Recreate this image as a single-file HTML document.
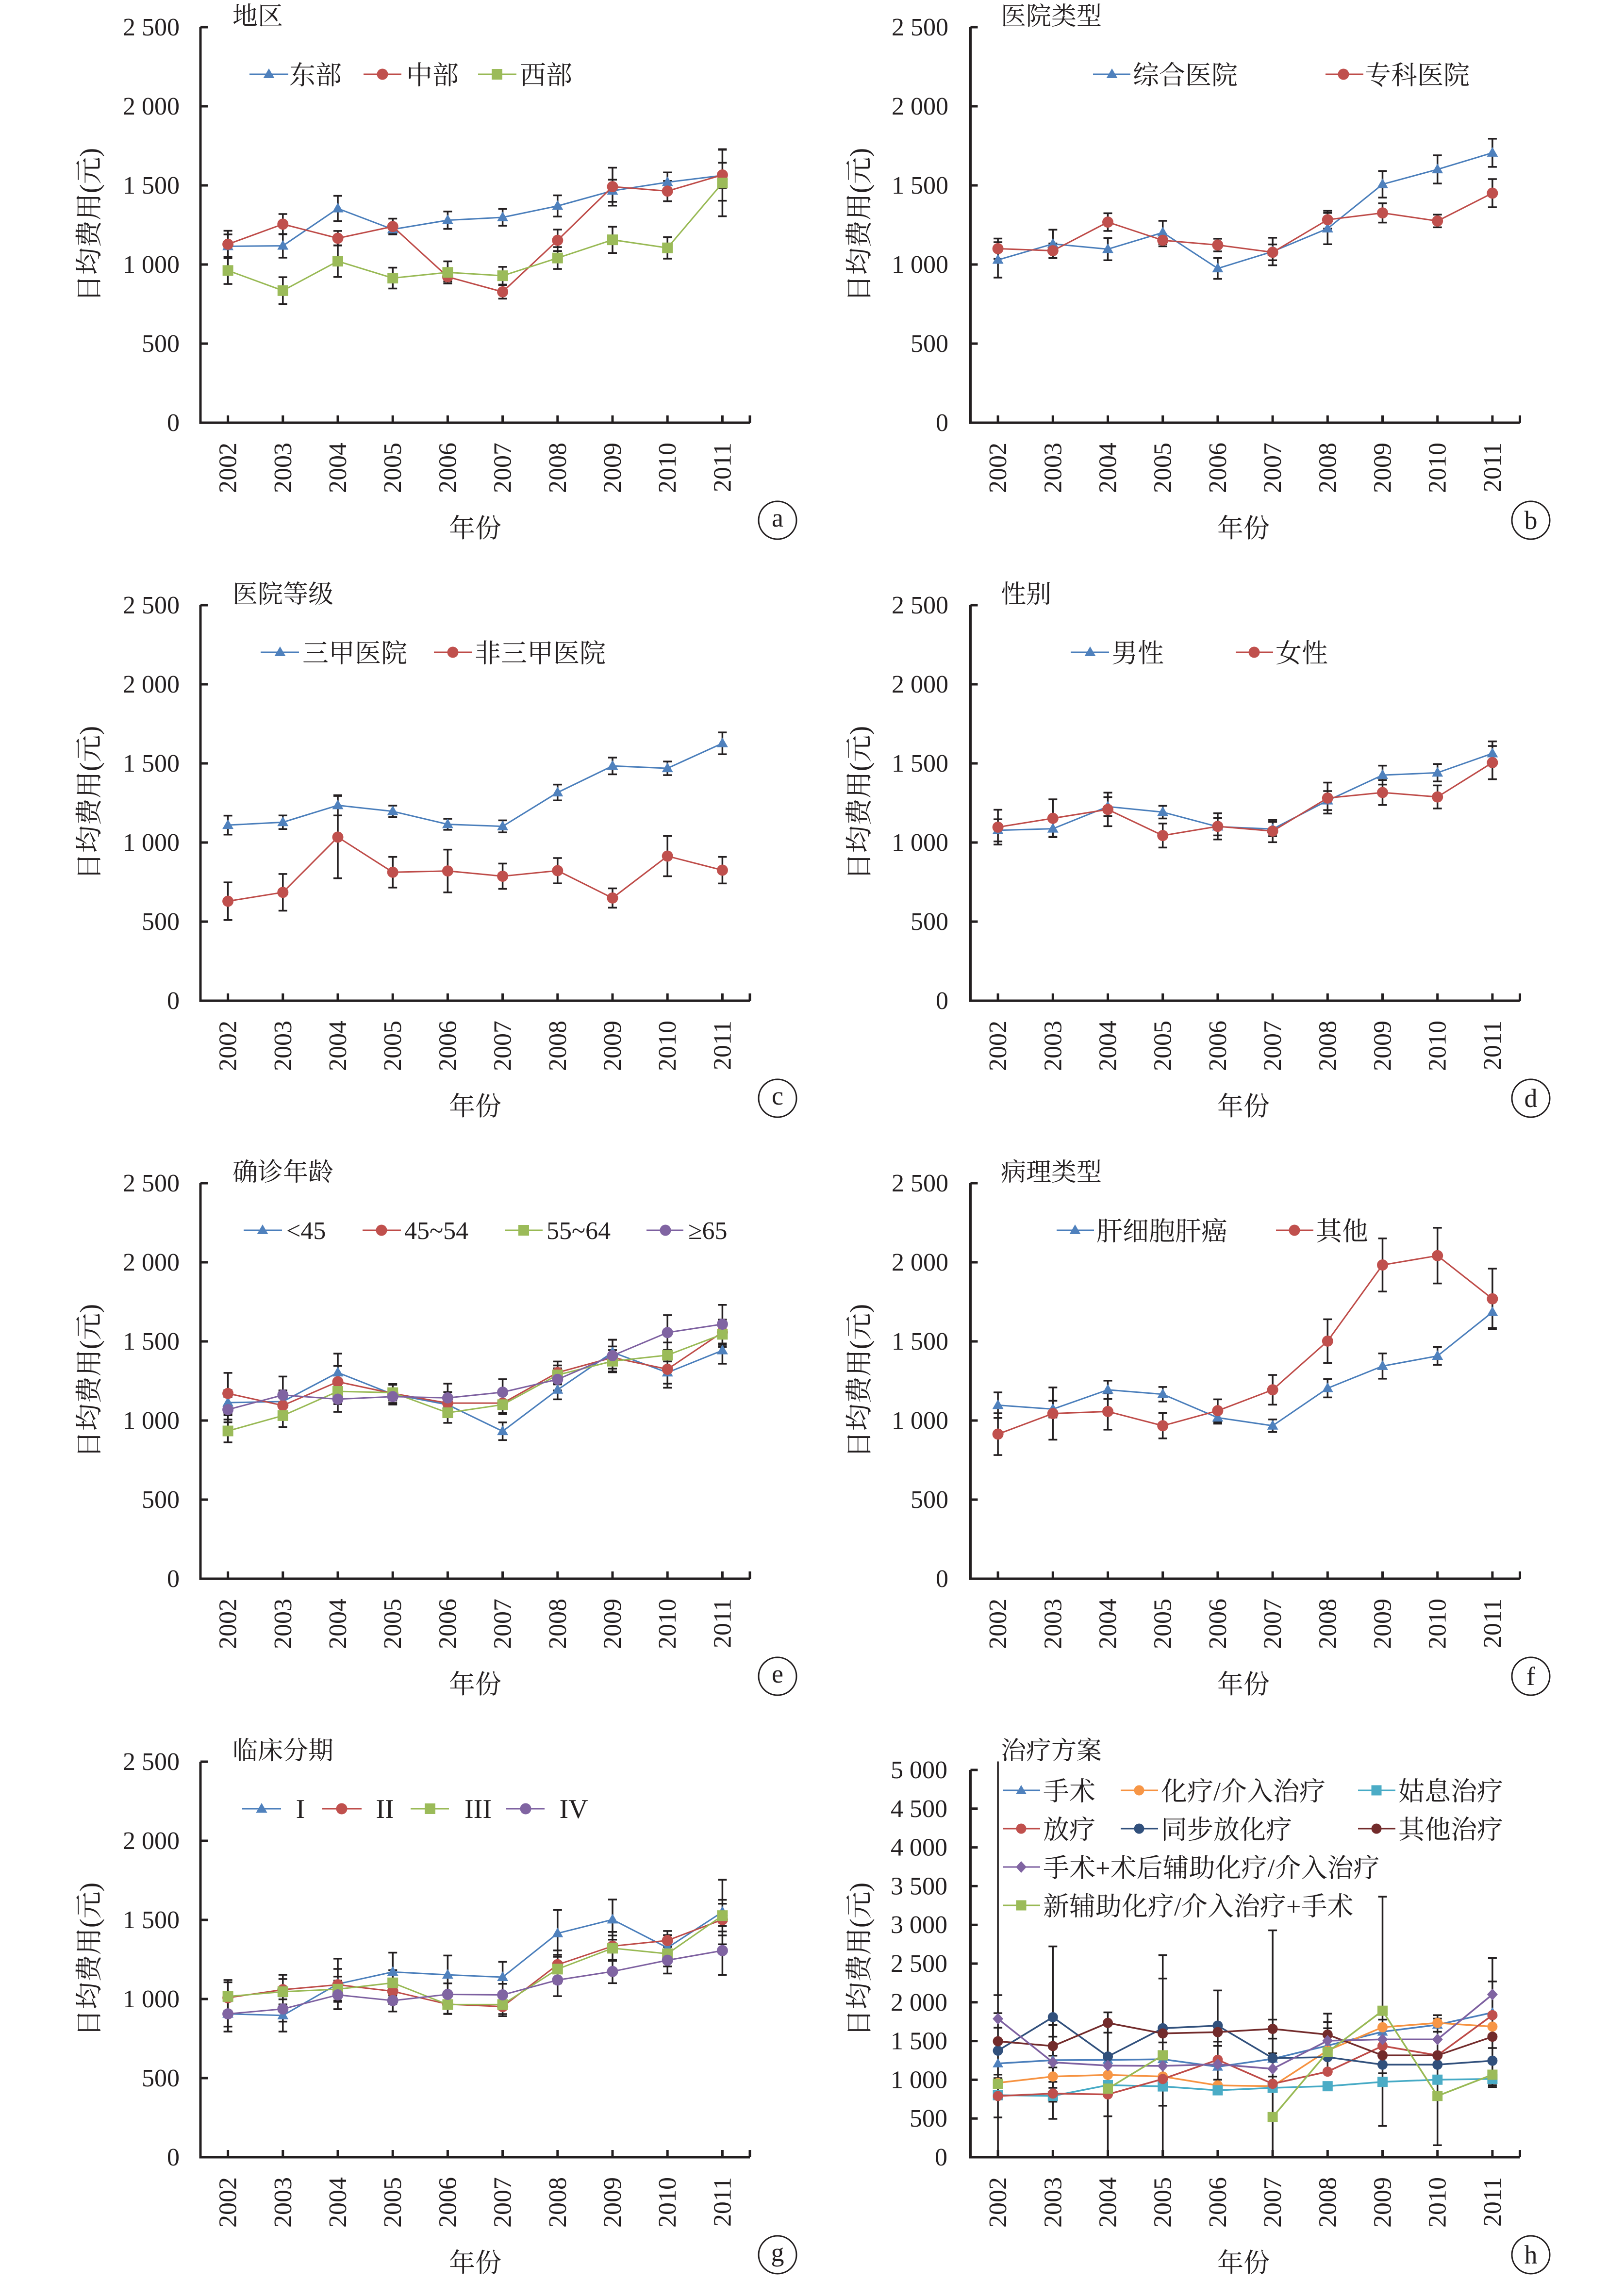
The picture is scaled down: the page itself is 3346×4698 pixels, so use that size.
<!DOCTYPE html>
<html><head><meta charset="utf-8"><style>
html,body{margin:0;padding:0;background:#fff}
svg{display:block}
text{fill:#231F20}
.t{font:52px "Liberation Serif","Noto Serif CJK SC",serif}
.c{font:54px "Liberation Serif","Noto Serif CJK SC",serif}
.yt{font:56px "Liberation Serif","Noto Serif CJK SC",serif}
.ax{fill:none;stroke:#231F20;stroke-width:5}
.eb{fill:none;stroke:#231F20;stroke-width:3.5;vector-effect:non-scaling-stroke}
.ln{fill:none;stroke-width:3;stroke-linejoin:round;vector-effect:non-scaling-stroke}
.lh{fill:none;stroke-width:3.5;stroke-linejoin:round;vector-effect:non-scaling-stroke}
.lg{fill:none;stroke-width:3}
.cir{fill:none;stroke:#231F20;stroke-width:3}
</style></head><body>
<svg xmlns="http://www.w3.org/2000/svg" width="3346" height="4698" viewBox="0 0 3346 4698">
<rect width="3346" height="4698" fill="#fff"/>
<defs>
<g id="T"><path transform="scale(1,-3.06748)" d="M0,-12L11.5,8L-11.5,8Z"/></g>
<g id="C"><circle transform="scale(1,-3.06748)" r="11.5"/></g>
<g id="S"><rect transform="scale(1,-3.06748)" x="-11" y="-11" width="22" height="22"/></g>
<g id="Th"><path transform="scale(1,-6.26566)" d="M0,-11L11,8L-11,8Z"/></g>
<g id="Ch"><circle transform="scale(1,-6.26566)" r="10.5"/></g>
<g id="Sh"><rect transform="scale(1,-6.26566)" x="-10.5" y="-10.5" width="21" height="21"/></g>
<g id="Dh"><path transform="scale(1,-6.26566)" d="M0,-12L11,0L0,12L-11,0Z"/></g>
<path id="tp" d="M0,-12L11.5,8L-11.5,8Z"/>
<circle id="cp" r="11.5"/>
<rect id="sp" x="-11" y="-11" width="22" height="22"/>
<path id="th" d="M0,-11L11,8L-11,8Z"/>
<circle id="ch" r="10.5"/>
<rect id="sh" x="-10.5" y="-10.5" width="21" height="21"/>
<path id="dh" d="M0,-12L11,0L0,12L-11,0Z"/>
<path id="axA" fill="none" stroke="#231F20" stroke-width="5" d="M413,56V871H1545M413,56h15M413,219h15M413,382h15M413,545h15M413,708h15M469.6,871v-15M582.8,871v-15M696,871v-15M809.2,871v-15M922.4,871v-15M1035.6,871v-15M1148.8,871v-15M1262,871v-15M1375.2,871v-15M1488.4,871v-15M1545,871v-15"/>
</defs>

<!-- axes -->
<use href="#axA"/>
<use href="#axA" x="1586.5" y="0"/>
<use href="#axA" x="0" y="1191"/>
<use href="#axA" x="1586.5" y="1191"/>
<use href="#axA" x="0" y="2382"/>
<use href="#axA" x="1586.5" y="2382"/>
<use href="#axA" x="0" y="3574"/>
<path class="ax" d="M1999.5,3647V4445H3131.5M1999.5,3647h15M1999.5,3726.8h15M1999.5,3806.6h15M1999.5,3886.4h15M1999.5,3966.2h15M1999.5,4046h15M1999.5,4125.8h15M1999.5,4205.6h15M1999.5,4285.4h15M1999.5,4365.2h15M2056.1,4445v-15M2169.3,4445v-15M2282.5,4445v-15M2395.7,4445v-15M2508.9,4445v-15M2622.1,4445v-15M2735.3,4445v-15M2848.5,4445v-15M2961.7,4445v-15M3074.9,4445v-15M3131.5,4445v-15"/>

<!-- y tick labels (2500 panels) -->
<g class="t" text-anchor="end" id="yl">
<text x="370" y="888">0</text><text x="370" y="725">500</text><text x="370" y="562">1 000</text><text x="370" y="399">1 500</text><text x="370" y="236">2 000</text><text x="370" y="73">2 500</text>
</g>
<g class="t" text-anchor="end" transform="translate(1584,0)">
<text x="370" y="888">0</text><text x="370" y="725">500</text><text x="370" y="562">1 000</text><text x="370" y="399">1 500</text><text x="370" y="236">2 000</text><text x="370" y="73">2 500</text>
</g>
<g class="t" text-anchor="end" transform="translate(0,1191)">
<text x="370" y="888">0</text><text x="370" y="725">500</text><text x="370" y="562">1 000</text><text x="370" y="399">1 500</text><text x="370" y="236">2 000</text><text x="370" y="73">2 500</text>
</g>
<g class="t" text-anchor="end" transform="translate(1584,1191)">
<text x="370" y="888">0</text><text x="370" y="725">500</text><text x="370" y="562">1 000</text><text x="370" y="399">1 500</text><text x="370" y="236">2 000</text><text x="370" y="73">2 500</text>
</g>
<g class="t" text-anchor="end" transform="translate(0,2382)">
<text x="370" y="888">0</text><text x="370" y="725">500</text><text x="370" y="562">1 000</text><text x="370" y="399">1 500</text><text x="370" y="236">2 000</text><text x="370" y="73">2 500</text>
</g>
<g class="t" text-anchor="end" transform="translate(1584,2382)">
<text x="370" y="888">0</text><text x="370" y="725">500</text><text x="370" y="562">1 000</text><text x="370" y="399">1 500</text><text x="370" y="236">2 000</text><text x="370" y="73">2 500</text>
</g>
<g class="t" text-anchor="end" transform="translate(0,3574)">
<text x="370" y="888">0</text><text x="370" y="725">500</text><text x="370" y="562">1 000</text><text x="370" y="399">1 500</text><text x="370" y="236">2 000</text><text x="370" y="73">2 500</text>
</g>
<g class="t" text-anchor="end">
<text x="1952" y="4462">0</text><text x="1952" y="4382.2">500</text><text x="1952" y="4302.4">1 000</text><text x="1952" y="4222.6">1 500</text><text x="1952" y="4142.8">2 000</text><text x="1952" y="4063">2 500</text><text x="1952" y="3983.2">3 000</text><text x="1952" y="3903.4">3 500</text><text x="1952" y="3823.6">4 000</text><text x="1952" y="3743.8">4 500</text><text x="1952" y="3664">5 000</text>
</g>

<!-- year labels -->
<g class="t" text-anchor="end">
<text transform="translate(486.6,912) rotate(-90)">2002</text><text transform="translate(599.8,912) rotate(-90)">2003</text><text transform="translate(713,912) rotate(-90)">2004</text><text transform="translate(826.2,912) rotate(-90)">2005</text><text transform="translate(939.4,912) rotate(-90)">2006</text><text transform="translate(1052.6,912) rotate(-90)">2007</text><text transform="translate(1165.8,912) rotate(-90)">2008</text><text transform="translate(1279,912) rotate(-90)">2009</text><text transform="translate(1392.2,912) rotate(-90)">2010</text><text transform="translate(1505.4,912) rotate(-90)">2011</text>
</g>
<g class="t" text-anchor="end" transform="translate(1586.5,0)">
<text transform="translate(486.6,912) rotate(-90)">2002</text><text transform="translate(599.8,912) rotate(-90)">2003</text><text transform="translate(713,912) rotate(-90)">2004</text><text transform="translate(826.2,912) rotate(-90)">2005</text><text transform="translate(939.4,912) rotate(-90)">2006</text><text transform="translate(1052.6,912) rotate(-90)">2007</text><text transform="translate(1165.8,912) rotate(-90)">2008</text><text transform="translate(1279,912) rotate(-90)">2009</text><text transform="translate(1392.2,912) rotate(-90)">2010</text><text transform="translate(1505.4,912) rotate(-90)">2011</text>
</g>
<g class="t" text-anchor="end" transform="translate(0,1191)">
<text transform="translate(486.6,912) rotate(-90)">2002</text><text transform="translate(599.8,912) rotate(-90)">2003</text><text transform="translate(713,912) rotate(-90)">2004</text><text transform="translate(826.2,912) rotate(-90)">2005</text><text transform="translate(939.4,912) rotate(-90)">2006</text><text transform="translate(1052.6,912) rotate(-90)">2007</text><text transform="translate(1165.8,912) rotate(-90)">2008</text><text transform="translate(1279,912) rotate(-90)">2009</text><text transform="translate(1392.2,912) rotate(-90)">2010</text><text transform="translate(1505.4,912) rotate(-90)">2011</text>
</g>
<g class="t" text-anchor="end" transform="translate(1586.5,1191)">
<text transform="translate(486.6,912) rotate(-90)">2002</text><text transform="translate(599.8,912) rotate(-90)">2003</text><text transform="translate(713,912) rotate(-90)">2004</text><text transform="translate(826.2,912) rotate(-90)">2005</text><text transform="translate(939.4,912) rotate(-90)">2006</text><text transform="translate(1052.6,912) rotate(-90)">2007</text><text transform="translate(1165.8,912) rotate(-90)">2008</text><text transform="translate(1279,912) rotate(-90)">2009</text><text transform="translate(1392.2,912) rotate(-90)">2010</text><text transform="translate(1505.4,912) rotate(-90)">2011</text>
</g>
<g class="t" text-anchor="end" transform="translate(0,2382)">
<text transform="translate(486.6,912) rotate(-90)">2002</text><text transform="translate(599.8,912) rotate(-90)">2003</text><text transform="translate(713,912) rotate(-90)">2004</text><text transform="translate(826.2,912) rotate(-90)">2005</text><text transform="translate(939.4,912) rotate(-90)">2006</text><text transform="translate(1052.6,912) rotate(-90)">2007</text><text transform="translate(1165.8,912) rotate(-90)">2008</text><text transform="translate(1279,912) rotate(-90)">2009</text><text transform="translate(1392.2,912) rotate(-90)">2010</text><text transform="translate(1505.4,912) rotate(-90)">2011</text>
</g>
<g class="t" text-anchor="end" transform="translate(1586.5,2382)">
<text transform="translate(486.6,912) rotate(-90)">2002</text><text transform="translate(599.8,912) rotate(-90)">2003</text><text transform="translate(713,912) rotate(-90)">2004</text><text transform="translate(826.2,912) rotate(-90)">2005</text><text transform="translate(939.4,912) rotate(-90)">2006</text><text transform="translate(1052.6,912) rotate(-90)">2007</text><text transform="translate(1165.8,912) rotate(-90)">2008</text><text transform="translate(1279,912) rotate(-90)">2009</text><text transform="translate(1392.2,912) rotate(-90)">2010</text><text transform="translate(1505.4,912) rotate(-90)">2011</text>
</g>
<g class="t" text-anchor="end" transform="translate(0,3574)">
<text transform="translate(486.6,912) rotate(-90)">2002</text><text transform="translate(599.8,912) rotate(-90)">2003</text><text transform="translate(713,912) rotate(-90)">2004</text><text transform="translate(826.2,912) rotate(-90)">2005</text><text transform="translate(939.4,912) rotate(-90)">2006</text><text transform="translate(1052.6,912) rotate(-90)">2007</text><text transform="translate(1165.8,912) rotate(-90)">2008</text><text transform="translate(1279,912) rotate(-90)">2009</text><text transform="translate(1392.2,912) rotate(-90)">2010</text><text transform="translate(1505.4,912) rotate(-90)">2011</text>
</g>
<g class="t" text-anchor="end" transform="translate(1586.5,3574)">
<text transform="translate(486.6,912) rotate(-90)">2002</text><text transform="translate(599.8,912) rotate(-90)">2003</text><text transform="translate(713,912) rotate(-90)">2004</text><text transform="translate(826.2,912) rotate(-90)">2005</text><text transform="translate(939.4,912) rotate(-90)">2006</text><text transform="translate(1052.6,912) rotate(-90)">2007</text><text transform="translate(1165.8,912) rotate(-90)">2008</text><text transform="translate(1279,912) rotate(-90)">2009</text><text transform="translate(1392.2,912) rotate(-90)">2010</text><text transform="translate(1505.4,912) rotate(-90)">2011</text>
</g>

<!-- y titles -->
<g class="yt" text-anchor="middle">
<text transform="translate(203,463.5) rotate(-90)">日均费用(元)</text>
<text transform="translate(1789.5,463.5) rotate(-90)">日均费用(元)</text>
<text transform="translate(203,1654.5) rotate(-90)">日均费用(元)</text>
<text transform="translate(1789.5,1654.5) rotate(-90)">日均费用(元)</text>
<text transform="translate(203,2845.5) rotate(-90)">日均费用(元)</text>
<text transform="translate(1789.5,2845.5) rotate(-90)">日均费用(元)</text>
<text transform="translate(203,4037.5) rotate(-90)">日均费用(元)</text>
<text transform="translate(1789.5,4037.5) rotate(-90)">日均费用(元)</text>
</g>

<!-- x titles -->
<g class="c" text-anchor="middle">
<text x="979" y="1107">年份</text><text x="2562" y="1107">年份</text>
<text x="979" y="2298">年份</text><text x="2562" y="2298">年份</text>
<text x="979" y="3489">年份</text><text x="2562" y="3489">年份</text>
<text x="979" y="4681">年份</text><text x="2562" y="4681">年份</text>
</g>

<!-- panel circles -->
<circle class="cir" cx="1602" cy="1072" r="39"/><circle class="cir" cx="3154" cy="1072" r="39"/>
<circle class="cir" cx="1602" cy="2263" r="39"/><circle class="cir" cx="3154" cy="2263" r="39"/>
<circle class="cir" cx="1602" cy="3454" r="39"/><circle class="cir" cx="3154" cy="3454" r="39"/>
<circle class="cir" cx="1602" cy="4646" r="39"/><circle class="cir" cx="3154" cy="4646" r="39"/>
<g class="c" text-anchor="middle">
<text x="1602" y="1085">a</text><text x="3154" y="1090">b</text>
<text x="1602" y="2276">c</text><text x="3154" y="2281">d</text>
<text x="1602" y="3467">e</text><text x="3154" y="3472">f</text>
<text x="1602" y="4659">g</text><text x="3154" y="4664">h</text>
</g>

<!-- panel titles -->
<g class="t">
<text x="479" y="51">地区</text><text x="2062" y="51">医院类型</text>
<text x="479" y="1242">医院等级</text><text x="2062" y="1242">性别</text>
<text x="479" y="2433">确诊年龄</text><text x="2062" y="2433">病理类型</text>
<text x="479" y="3625">临床分期</text><text x="2062" y="3625">治疗方案</text>
</g>

<!-- ===== Panel a ===== -->
<path class="lg" stroke="#4A7EBB" d="M514,153H594"/><use href="#tp" x="554" y="153" fill="#4F81BD"/><text class="c" x="596" y="173.5">东部</text>
<path class="lg" stroke="#BE4B48" d="M749,153H827"/><use href="#cp" x="788" y="153" fill="#C0504D"/><text class="c" x="837" y="173.5">中部</text>
<path class="lg" stroke="#98B954" d="M985,153H1064"/><use href="#sp" x="1024" y="153" fill="#9BBB59"/><text class="c" x="1071" y="173.5">西部</text>
<g transform="translate(469.6,871) scale(1,-0.326)">
<path class="eb" d="M0,1040V1190M-9,1040h18M-9,1190h18M113.2,1043V1193M104.2,1043h18M104.2,1193h18M226.4,1274V1434M217.4,1274h18M217.4,1434h18M339.6,1192V1252M330.6,1192h18M330.6,1252h18M452.8,1225V1335M443.8,1225h18M443.8,1335h18M566,1245V1351M557,1245h18M557,1351h18M679.2,1303V1437M670.2,1303h18M670.2,1437h18M792.4,1396V1536M783.4,1396h18M783.4,1536h18M905.6,1458V1582M896.6,1458h18M896.6,1582h18M1018.8,1483V1643M1009.8,1483h18M1009.8,1643h18
M0,1043V1213M-9,1043h18M-9,1213h18M113.2,1191V1319M104.2,1191h18M104.2,1319h18M226.4,1120V1212M217.4,1120h18M217.4,1212h18M339.6,1190V1290M330.6,1190h18M330.6,1290h18M452.8,892V952M443.8,892h18M443.8,952h18M566,784V870M557,784h18M557,870h18M679.2,1085V1221M670.2,1085h18M670.2,1221h18M792.4,1372V1612M783.4,1372h18M783.4,1612h18M905.6,1400V1528M896.6,1400h18M896.6,1528h18M1018.8,1403V1729M1009.8,1403h18M1009.8,1729h18
M0,877V1047M-9,877h18M-9,1047h18M113.2,750V920M104.2,750h18M104.2,920h18M226.4,921V1121M217.4,921h18M217.4,1121h18M339.6,848V980M330.6,848h18M330.6,980h18M452.8,880V1020M443.8,880h18M443.8,1020h18M566,873V985M557,873h18M557,985h18M679.2,972V1110M670.2,972h18M670.2,1110h18M792.4,1073V1239M783.4,1073h18M783.4,1239h18M905.6,1037V1173M896.6,1037h18M896.6,1173h18M1018.8,1305V1725M1009.8,1305h18M1009.8,1725h18"/>
<polyline class="ln" stroke="#4A7EBB" points="0,1115 113.2,1118 226.4,1354 339.6,1222 452.8,1280 566,1298 679.2,1370 792.4,1466 905.6,1520 1018.8,1563"/>
<g fill="#4F81BD"><use href="#T" x="0" y="1115"/><use href="#T" x="113.2" y="1118"/><use href="#T" x="226.4" y="1354"/><use href="#T" x="339.6" y="1222"/><use href="#T" x="452.8" y="1280"/><use href="#T" x="566" y="1298"/><use href="#T" x="679.2" y="1370"/><use href="#T" x="792.4" y="1466"/><use href="#T" x="905.6" y="1520"/><use href="#T" x="1018.8" y="1563"/></g>
<polyline class="ln" stroke="#BE4B48" points="0,1128 113.2,1255 226.4,1166 339.6,1240 452.8,922 566,827 679.2,1153 792.4,1492 905.6,1464 1018.8,1566"/>
<g fill="#C0504D"><use href="#C" x="0" y="1128"/><use href="#C" x="113.2" y="1255"/><use href="#C" x="226.4" y="1166"/><use href="#C" x="339.6" y="1240"/><use href="#C" x="452.8" y="922"/><use href="#C" x="566" y="827"/><use href="#C" x="679.2" y="1153"/><use href="#C" x="792.4" y="1492"/><use href="#C" x="905.6" y="1464"/><use href="#C" x="1018.8" y="1566"/></g>
<polyline class="ln" stroke="#98B954" points="0,962 113.2,835 226.4,1021 339.6,914 452.8,950 566,929 679.2,1041 792.4,1156 905.6,1105 1018.8,1515"/>
<g fill="#9BBB59"><use href="#S" x="0" y="962"/><use href="#S" x="113.2" y="835"/><use href="#S" x="226.4" y="1021"/><use href="#S" x="339.6" y="914"/><use href="#S" x="452.8" y="950"/><use href="#S" x="566" y="929"/><use href="#S" x="679.2" y="1041"/><use href="#S" x="792.4" y="1156"/><use href="#S" x="905.6" y="1105"/><use href="#S" x="1018.8" y="1515"/></g>
</g>

<!-- ===== Panel b ===== -->
<path class="lg" stroke="#4A7EBB" d="M2252,153H2329"/><use href="#tp" x="2291" y="153" fill="#4F81BD"/><text class="c" x="2334" y="173.5">综合医院</text>
<path class="lg" stroke="#BE4B48" d="M2731,153H2809"/><use href="#cp" x="2768" y="153" fill="#C0504D"/><text class="c" x="2812" y="173.5">专科医院</text>
<g transform="translate(2056.1,871) scale(1,-0.326)">
<path class="eb" d="M0,917V1141M-9,917h18M-9,1141h18M113.2,1040V1220M104.2,1040h18M104.2,1220h18M226.4,1027V1167M217.4,1027h18M217.4,1167h18M339.6,1128V1276M330.6,1128h18M330.6,1276h18M452.8,909V1041M443.8,909h18M443.8,1041h18M566,995V1169M557,995h18M557,1169h18M679.2,1128V1326M670.2,1128h18M670.2,1326h18M792.4,1423V1591M783.4,1423h18M783.4,1591h18M905.6,1512V1690M896.6,1512h18M896.6,1690h18M1018.8,1617V1795M1009.8,1617h18M1009.8,1795h18
M0,1036V1164M-9,1036h18M-9,1164h18M113.2,1041V1133M104.2,1041h18M104.2,1133h18M226.4,1212V1324M217.4,1212h18M217.4,1324h18M339.6,1115V1191M330.6,1115h18M330.6,1191h18M452.8,1083V1163M443.8,1083h18M443.8,1163h18M566,1027V1127M557,1027h18M557,1127h18M679.2,1227V1339M670.2,1227h18M670.2,1339h18M792.4,1265V1387M783.4,1265h18M783.4,1387h18M905.6,1235V1315M896.6,1235h18M896.6,1315h18M1018.8,1362V1540M1009.8,1362h18M1009.8,1540h18"/>
<polyline class="ln" stroke="#4A7EBB" points="0,1029 113.2,1130 226.4,1097 339.6,1202 452.8,975 566,1082 679.2,1227 792.4,1507 905.6,1601 1018.8,1706"/>
<g fill="#4F81BD"><use href="#T" x="0" y="1029"/><use href="#T" x="113.2" y="1130"/><use href="#T" x="226.4" y="1097"/><use href="#T" x="339.6" y="1202"/><use href="#T" x="452.8" y="975"/><use href="#T" x="566" y="1082"/><use href="#T" x="679.2" y="1227"/><use href="#T" x="792.4" y="1507"/><use href="#T" x="905.6" y="1601"/><use href="#T" x="1018.8" y="1706"/></g>
<polyline class="ln" stroke="#BE4B48" points="0,1100 113.2,1087 226.4,1268 339.6,1153 452.8,1123 566,1077 679.2,1283 792.4,1326 905.6,1275 1018.8,1451"/>
<g fill="#C0504D"><use href="#C" x="0" y="1100"/><use href="#C" x="113.2" y="1087"/><use href="#C" x="226.4" y="1268"/><use href="#C" x="339.6" y="1153"/><use href="#C" x="452.8" y="1123"/><use href="#C" x="566" y="1077"/><use href="#C" x="679.2" y="1283"/><use href="#C" x="792.4" y="1326"/><use href="#C" x="905.6" y="1275"/><use href="#C" x="1018.8" y="1451"/></g>
</g>

<!-- ===== Panel c ===== -->
<path class="lg" stroke="#4A7EBB" d="M537,1344H616"/><use href="#tp" x="577" y="1344" fill="#4F81BD"/><text class="c" x="623" y="1364.5">三甲医院</text>
<path class="lg" stroke="#BE4B48" d="M894,1344H973"/><use href="#cp" x="933" y="1344" fill="#C0504D"/><text class="c" x="978" y="1364.5">非三甲医院</text>
<g transform="translate(469.6,2062) scale(1,-0.326)">
<path class="eb" d="M0,1050V1170M-9,1050h18M-9,1170h18M113.2,1085V1171M104.2,1085h18M104.2,1171h18M226.4,1171V1299M217.4,1171h18M217.4,1299h18M339.6,1161V1233M330.6,1161h18M330.6,1233h18M452.8,1080V1150M443.8,1080h18M443.8,1150h18M566,1064V1140M557,1064h18M557,1140h18M679.2,1266V1366M670.2,1266h18M670.2,1366h18M792.4,1431V1537M783.4,1431h18M783.4,1537h18M905.6,1426V1512M896.6,1426h18M896.6,1512h18M1018.8,1558V1696M1009.8,1558h18M1009.8,1696h18
M0,510V748M-9,510h18M-9,748h18M113.2,569V801M104.2,569h18M104.2,801h18M226.4,774V1294M217.4,774h18M217.4,1294h18M339.6,715V909M330.6,715h18M330.6,909h18M452.8,685V955M443.8,685h18M443.8,955h18M566,707V867M557,707h18M557,867h18M679.2,742V902M670.2,742h18M670.2,902h18M792.4,588V710M783.4,588h18M783.4,710h18M905.6,787V1041M896.6,787h18M896.6,1041h18M1018.8,741V909M1009.8,741h18M1009.8,909h18"/>
<polyline class="ln" stroke="#4A7EBB" points="0,1110 113.2,1128 226.4,1235 339.6,1197 452.8,1115 566,1102 679.2,1316 792.4,1484 905.6,1469 1018.8,1627"/>
<g fill="#4F81BD"><use href="#T" x="0" y="1110"/><use href="#T" x="113.2" y="1128"/><use href="#T" x="226.4" y="1235"/><use href="#T" x="339.6" y="1197"/><use href="#T" x="452.8" y="1115"/><use href="#T" x="566" y="1102"/><use href="#T" x="679.2" y="1316"/><use href="#T" x="792.4" y="1484"/><use href="#T" x="905.6" y="1469"/><use href="#T" x="1018.8" y="1627"/></g>
<polyline class="ln" stroke="#BE4B48" points="0,629 113.2,685 226.4,1034 339.6,812 452.8,820 566,787 679.2,822 792.4,649 905.6,914 1018.8,825"/>
<g fill="#C0504D"><use href="#C" x="0" y="629"/><use href="#C" x="113.2" y="685"/><use href="#C" x="226.4" y="1034"/><use href="#C" x="339.6" y="812"/><use href="#C" x="452.8" y="820"/><use href="#C" x="566" y="787"/><use href="#C" x="679.2" y="822"/><use href="#C" x="792.4" y="649"/><use href="#C" x="905.6" y="914"/><use href="#C" x="1018.8" y="825"/></g>
</g>

<!-- ===== Panel d ===== -->
<path class="lg" stroke="#4A7EBB" d="M2206,1344H2285"/><use href="#tp" x="2246" y="1344" fill="#4F81BD"/><text class="c" x="2290" y="1364.5">男性</text>
<path class="lg" stroke="#BE4B48" d="M2546,1344H2623"/><use href="#cp" x="2584" y="1344" fill="#C0504D"/><text class="c" x="2628" y="1364.5">女性</text>
<g transform="translate(2056.1,2062) scale(1,-0.326)">
<path class="eb" d="M0,1007V1147M-9,1007h18M-9,1147h18M113.2,1037V1137M104.2,1037h18M104.2,1137h18M226.4,1167V1287M217.4,1167h18M217.4,1287h18M339.6,1152V1232M330.6,1152h18M330.6,1232h18M452.8,1045V1155M443.8,1045h18M443.8,1155h18M566,1040V1130M557,1040h18M557,1130h18M679.2,1205V1325M670.2,1205h18M670.2,1325h18M792.4,1366V1486M783.4,1366h18M783.4,1486h18M905.6,1386V1496M896.6,1386h18M896.6,1496h18M1018.8,1487V1639M1009.8,1487h18M1009.8,1639h18
M0,987V1207M-9,987h18M-9,1207h18M113.2,1033V1273M104.2,1033h18M104.2,1273h18M226.4,1103V1315M217.4,1103h18M217.4,1315h18M339.6,968V1120M330.6,968h18M330.6,1120h18M452.8,1019V1185M443.8,1019h18M443.8,1185h18M566,1002V1142M557,1002h18M557,1142h18M679.2,1183V1379M670.2,1183h18M670.2,1379h18M792.4,1237V1395M783.4,1237h18M783.4,1395h18M905.6,1215V1361M896.6,1215h18M896.6,1361h18M1018.8,1400V1610M1009.8,1400h18M1009.8,1610h18"/>
<polyline class="ln" stroke="#4A7EBB" points="0,1077 113.2,1087 226.4,1227 339.6,1192 452.8,1100 566,1085 679.2,1265 792.4,1426 905.6,1441 1018.8,1563"/>
<g fill="#4F81BD"><use href="#T" x="0" y="1077"/><use href="#T" x="113.2" y="1087"/><use href="#T" x="226.4" y="1227"/><use href="#T" x="339.6" y="1192"/><use href="#T" x="452.8" y="1100"/><use href="#T" x="566" y="1085"/><use href="#T" x="679.2" y="1265"/><use href="#T" x="792.4" y="1426"/><use href="#T" x="905.6" y="1441"/><use href="#T" x="1018.8" y="1563"/></g>
<polyline class="ln" stroke="#BE4B48" points="0,1097 113.2,1153 226.4,1209 339.6,1044 452.8,1102 566,1072 679.2,1281 792.4,1316 905.6,1288 1018.8,1505"/>
<g fill="#C0504D"><use href="#C" x="0" y="1097"/><use href="#C" x="113.2" y="1153"/><use href="#C" x="226.4" y="1209"/><use href="#C" x="339.6" y="1044"/><use href="#C" x="452.8" y="1102"/><use href="#C" x="566" y="1072"/><use href="#C" x="679.2" y="1281"/><use href="#C" x="792.4" y="1316"/><use href="#C" x="905.6" y="1288"/><use href="#C" x="1018.8" y="1505"/></g>
</g>

<!-- ===== Panel e ===== -->
<path class="lg" stroke="#4A7EBB" d="M502,2535H581"/><use href="#tp" x="541" y="2535" fill="#4F81BD"/><text class="t" x="590" y="2553">&lt;45</text>
<path class="lg" stroke="#BE4B48" d="M747,2535H826"/><use href="#cp" x="786" y="2535" fill="#C0504D"/><text class="t" x="833" y="2553">45~54</text>
<path class="lg" stroke="#98B954" d="M1041,2535H1118"/><use href="#sp" x="1079" y="2535" fill="#9BBB59"/><text class="t" x="1126" y="2553">55~64</text>
<path class="lg" stroke="#7D60A0" d="M1332,2535H1408"/><use href="#cp" x="1371" y="2535" fill="#8064A2"/><text class="t" x="1418" y="2553">≥65</text>
<g transform="translate(469.6,3253) scale(1,-0.326)">
<path class="eb" d="M0,1033V1193M-9,1033h18M-9,1193h18M113.2,1050V1190M104.2,1050h18M104.2,1190h18M226.4,1183V1423M217.4,1183h18M217.4,1423h18M339.6,1106V1226M330.6,1106h18M330.6,1226h18M452.8,1040V1160M443.8,1040h18M443.8,1160h18M566,876V988M557,876h18M557,988h18M679.2,1134V1254M670.2,1134h18M670.2,1254h18M792.4,1351V1511M783.4,1351h18M783.4,1511h18M905.6,1233V1373M896.6,1233h18M896.6,1373h18M1018.8,1359V1527M1009.8,1359h18M1009.8,1527h18
M0,1041V1301M-9,1041h18M-9,1301h18M113.2,1005V1185M104.2,1005h18M104.2,1185h18M226.4,1145V1345M217.4,1145h18M217.4,1345h18M339.6,1111V1231M330.6,1111h18M330.6,1231h18M452.8,1040V1180M443.8,1040h18M443.8,1180h18M566,1050V1170M557,1050h18M557,1170h18M679.2,1233V1373M670.2,1233h18M670.2,1373h18M792.4,1328V1468M783.4,1328h18M783.4,1468h18M905.6,1207V1441M896.6,1207h18M896.6,1441h18M1018.8,1478V1638M1009.8,1478h18M1009.8,1638h18
M0,862V1006M-9,862h18M-9,1006h18M113.2,959V1103M104.2,959h18M104.2,1103h18M226.4,1104V1264M217.4,1104h18M217.4,1264h18M339.6,1126V1226M330.6,1126h18M330.6,1226h18M452.8,985V1113M443.8,985h18M443.8,1113h18M566,1040V1160M557,1040h18M557,1160h18M679.2,1228V1348M670.2,1228h18M670.2,1348h18M792.4,1305V1445M783.4,1305h18M783.4,1445h18M905.6,1333V1493M896.6,1333h18M896.6,1493h18M1018.8,1465V1625M1009.8,1465h18M1009.8,1625h18
M0,989V1149M-9,989h18M-9,1149h18M113.2,1044V1278M104.2,1044h18M104.2,1278h18M226.4,1055V1215M217.4,1055h18M217.4,1215h18M339.6,1101V1201M330.6,1101h18M330.6,1201h18M452.8,1053V1233M443.8,1053h18M443.8,1233h18M566,1097V1261M557,1097h18M557,1261h18M679.2,1190V1330M670.2,1190h18M670.2,1330h18M792.4,1310V1510M783.4,1310h18M783.4,1510h18M905.6,1446V1666M896.6,1446h18M896.6,1666h18M1018.8,1487V1731M1009.8,1487h18M1009.8,1731h18"/>
<polyline class="ln" stroke="#4A7EBB" points="0,1113 113.2,1120 226.4,1303 339.6,1166 452.8,1100 566,932 679.2,1194 792.4,1431 905.6,1303 1018.8,1443"/>
<g fill="#4F81BD"><use href="#T" x="0" y="1113"/><use href="#T" x="113.2" y="1120"/><use href="#T" x="226.4" y="1303"/><use href="#T" x="339.6" y="1166"/><use href="#T" x="452.8" y="1100"/><use href="#T" x="566" y="932"/><use href="#T" x="679.2" y="1194"/><use href="#T" x="792.4" y="1431"/><use href="#T" x="905.6" y="1303"/><use href="#T" x="1018.8" y="1443"/></g>
<polyline class="ln" stroke="#BE4B48" points="0,1171 113.2,1095 226.4,1245 339.6,1171 452.8,1110 566,1110 679.2,1303 792.4,1398 905.6,1324 1018.8,1558"/>
<g fill="#C0504D"><use href="#C" x="0" y="1171"/><use href="#C" x="113.2" y="1095"/><use href="#C" x="226.4" y="1245"/><use href="#C" x="339.6" y="1171"/><use href="#C" x="452.8" y="1110"/><use href="#C" x="566" y="1110"/><use href="#C" x="679.2" y="1303"/><use href="#C" x="792.4" y="1398"/><use href="#C" x="905.6" y="1324"/><use href="#C" x="1018.8" y="1558"/></g>
<polyline class="ln" stroke="#98B954" points="0,934 113.2,1031 226.4,1184 339.6,1176 452.8,1049 566,1100 679.2,1288 792.4,1375 905.6,1413 1018.8,1545"/>
<g fill="#9BBB59"><use href="#S" x="0" y="934"/><use href="#S" x="113.2" y="1031"/><use href="#S" x="226.4" y="1184"/><use href="#S" x="339.6" y="1176"/><use href="#S" x="452.8" y="1049"/><use href="#S" x="566" y="1100"/><use href="#S" x="679.2" y="1288"/><use href="#S" x="792.4" y="1375"/><use href="#S" x="905.6" y="1413"/><use href="#S" x="1018.8" y="1545"/></g>
<polyline class="ln" stroke="#7D60A0" points="0,1069 113.2,1161 226.4,1135 339.6,1151 452.8,1143 566,1179 679.2,1260 792.4,1410 905.6,1556 1018.8,1609"/>
<g fill="#8064A2"><use href="#C" x="0" y="1069"/><use href="#C" x="113.2" y="1161"/><use href="#C" x="226.4" y="1135"/><use href="#C" x="339.6" y="1151"/><use href="#C" x="452.8" y="1143"/><use href="#C" x="566" y="1179"/><use href="#C" x="679.2" y="1260"/><use href="#C" x="792.4" y="1410"/><use href="#C" x="905.6" y="1556"/><use href="#C" x="1018.8" y="1609"/></g>
</g>

<!-- ===== Panel f ===== -->
<path class="lg" stroke="#4A7EBB" d="M2177,2535H2254"/><use href="#tp" x="2215" y="2535" fill="#4F81BD"/><text class="c" x="2259" y="2555.5">肝细胞肝癌</text>
<path class="lg" stroke="#BE4B48" d="M2629,2535H2706"/><use href="#cp" x="2667" y="2535" fill="#C0504D"/><text class="c" x="2711" y="2555.5">其他</text>
<g transform="translate(2056.1,3253) scale(1,-0.326)">
<path class="eb" d="M0,1016V1178M-9,1016h18M-9,1178h18M113.2,1019V1125M104.2,1019h18M104.2,1125h18M226.4,1136V1252M217.4,1136h18M217.4,1252h18M339.6,1120V1212M330.6,1120h18M330.6,1212h18M452.8,980V1056M443.8,980h18M443.8,1056h18M566,927V1007M557,927h18M557,1007h18M679.2,1146V1262M670.2,1146h18M670.2,1262h18M792.4,1264V1424M783.4,1264h18M783.4,1424h18M905.6,1352V1464M896.6,1352h18M896.6,1464h18M1018.8,1585V1785M1009.8,1585h18M1009.8,1785h18
M0,782V1046M-9,782h18M-9,1046h18M113.2,879V1209M104.2,879h18M104.2,1209h18M226.4,942V1172M217.4,942h18M217.4,1172h18M339.6,887V1047M330.6,887h18M330.6,1047h18M452.8,990V1134M443.8,990h18M443.8,1134h18M566,1100V1288M557,1100h18M557,1288h18M679.2,1364V1640M670.2,1364h18M670.2,1640h18M792.4,1815V2151M783.4,1815h18M783.4,2151h18M905.6,1866V2218M896.6,1866h18M896.6,2218h18M1018.8,1578V1960M1009.8,1578h18M1009.8,1960h18"/>
<polyline class="ln" stroke="#4A7EBB" points="0,1097 113.2,1072 226.4,1194 339.6,1166 452.8,1018 566,967 679.2,1204 792.4,1344 905.6,1408 1018.8,1685"/>
<g fill="#4F81BD"><use href="#T" x="0" y="1097"/><use href="#T" x="113.2" y="1072"/><use href="#T" x="226.4" y="1194"/><use href="#T" x="339.6" y="1166"/><use href="#T" x="452.8" y="1018"/><use href="#T" x="566" y="967"/><use href="#T" x="679.2" y="1204"/><use href="#T" x="792.4" y="1344"/><use href="#T" x="905.6" y="1408"/><use href="#T" x="1018.8" y="1685"/></g>
<polyline class="ln" stroke="#BE4B48" points="0,914 113.2,1044 226.4,1057 339.6,967 452.8,1062 566,1194 679.2,1502 792.4,1983 905.6,2042 1018.8,1769"/>
<g fill="#C0504D"><use href="#C" x="0" y="914"/><use href="#C" x="113.2" y="1044"/><use href="#C" x="226.4" y="1057"/><use href="#C" x="339.6" y="967"/><use href="#C" x="452.8" y="1062"/><use href="#C" x="566" y="1194"/><use href="#C" x="679.2" y="1502"/><use href="#C" x="792.4" y="1983"/><use href="#C" x="905.6" y="2042"/><use href="#C" x="1018.8" y="1769"/></g>
</g>

<!-- ===== Panel g ===== -->
<path class="lg" stroke="#4A7EBB" d="M499,3727H579"/><use href="#tp" x="539" y="3727" fill="#4F81BD"/>
<path class="lg" stroke="#BE4B48" d="M664,3727H745"/><use href="#cp" x="704" y="3727" fill="#C0504D"/>
<path class="lg" stroke="#98B954" d="M846,3727H925"/><use href="#sp" x="886" y="3727" fill="#9BBB59"/>
<path class="lg" stroke="#7D60A0" d="M1043,3727H1122"/><use href="#cp" x="1083" y="3727" fill="#8064A2"/>
<g style="font:56px 'Liberation Serif',serif" text-anchor="middle"><text x="619" y="3746">I</text><text x="793" y="3746">II</text><text x="985" y="3746">III</text><text x="1182" y="3746">IV</text></g>
<g transform="translate(469.6,4445) scale(1,-0.326)">
<path class="eb" d="M0,826V986M-9,826h18M-9,986h18M113.2,794V998M104.2,794h18M104.2,998h18M226.4,935V1255M217.4,935h18M217.4,1255h18M339.6,1049V1293M330.6,1049h18M330.6,1293h18M452.8,1031V1275M443.8,1031h18M443.8,1275h18M566,1041V1235M557,1041h18M557,1235h18M679.2,1267V1563M670.2,1267h18M670.2,1563h18M792.4,1375V1629M783.4,1375h18M783.4,1629h18M905.6,1244V1404M896.6,1244h18M896.6,1404h18M1018.8,1346V1754M1009.8,1346h18M1009.8,1754h18
M0,896V1120M-9,896h18M-9,1120h18M113.2,965V1153M104.2,965h18M104.2,1153h18M226.4,990V1190M217.4,990h18M217.4,1190h18M339.6,969V1129M330.6,969h18M330.6,1129h18M452.8,907V1027M443.8,907h18M443.8,1027h18M566,892V1012M557,892h18M557,1012h18M679.2,1127V1307M670.2,1127h18M670.2,1307h18M792.4,1244V1424M783.4,1244h18M783.4,1424h18M905.6,1310V1430M896.6,1310h18M896.6,1430h18M1018.8,1402V1602M1009.8,1402h18M1009.8,1602h18
M0,926V1106M-9,926h18M-9,1106h18M113.2,966V1126M104.2,966h18M104.2,1126h18M226.4,982V1142M217.4,982h18M217.4,1142h18M339.6,1022V1182M330.6,1022h18M330.6,1182h18M452.8,905V1025M443.8,905h18M443.8,1025h18M566,905V1025M557,905h18M557,1025h18M679.2,1099V1279M670.2,1099h18M670.2,1279h18M792.4,1241V1401M783.4,1241h18M783.4,1401h18M905.6,1206V1366M896.6,1206h18M896.6,1366h18M1018.8,1427V1627M1009.8,1427h18M1009.8,1627h18
M0,794V1018M-9,794h18M-9,1018h18M113.2,857V1017M104.2,857h18M104.2,1017h18M226.4,936V1116M217.4,936h18M217.4,1116h18M339.6,921V1059M330.6,921h18M330.6,1059h18M452.8,959V1099M443.8,959h18M443.8,1099h18M566,956V1096M557,956h18M557,1096h18M679.2,1018V1222M670.2,1018h18M670.2,1222h18M792.4,1100V1248M783.4,1100h18M783.4,1248h18M905.6,1161V1329M896.6,1161h18M896.6,1329h18M1018.8,1151V1461M1009.8,1151h18M1009.8,1461h18"/>
<polyline class="ln" stroke="#4A7EBB" points="0,906 113.2,896 226.4,1095 339.6,1171 452.8,1153 566,1138 679.2,1415 792.4,1502 905.6,1324 1018.8,1550"/>
<g fill="#4F81BD"><use href="#T" x="0" y="906"/><use href="#T" x="113.2" y="896"/><use href="#T" x="226.4" y="1095"/><use href="#T" x="339.6" y="1171"/><use href="#T" x="452.8" y="1153"/><use href="#T" x="566" y="1138"/><use href="#T" x="679.2" y="1415"/><use href="#T" x="792.4" y="1502"/><use href="#T" x="905.6" y="1324"/><use href="#T" x="1018.8" y="1550"/></g>
<polyline class="ln" stroke="#BE4B48" points="0,1008 113.2,1059 226.4,1090 339.6,1049 452.8,967 566,952 679.2,1217 792.4,1334 905.6,1370 1018.8,1502"/>
<g fill="#C0504D"><use href="#C" x="0" y="1008"/><use href="#C" x="113.2" y="1059"/><use href="#C" x="226.4" y="1090"/><use href="#C" x="339.6" y="1049"/><use href="#C" x="452.8" y="967"/><use href="#C" x="566" y="952"/><use href="#C" x="679.2" y="1217"/><use href="#C" x="792.4" y="1334"/><use href="#C" x="905.6" y="1370"/><use href="#C" x="1018.8" y="1502"/></g>
<polyline class="ln" stroke="#98B954" points="0,1016 113.2,1046 226.4,1062 339.6,1102 452.8,965 566,965 679.2,1189 792.4,1321 905.6,1286 1018.8,1527"/>
<g fill="#9BBB59"><use href="#S" x="0" y="1016"/><use href="#S" x="113.2" y="1046"/><use href="#S" x="226.4" y="1062"/><use href="#S" x="339.6" y="1102"/><use href="#S" x="452.8" y="965"/><use href="#S" x="566" y="965"/><use href="#S" x="679.2" y="1189"/><use href="#S" x="792.4" y="1321"/><use href="#S" x="905.6" y="1286"/><use href="#S" x="1018.8" y="1527"/></g>
<polyline class="ln" stroke="#7D60A0" points="0,906 113.2,937 226.4,1026 339.6,990 452.8,1029 566,1026 679.2,1120 792.4,1174 905.6,1245 1018.8,1306"/>
<g fill="#8064A2"><use href="#C" x="0" y="906"/><use href="#C" x="113.2" y="937"/><use href="#C" x="226.4" y="1026"/><use href="#C" x="339.6" y="990"/><use href="#C" x="452.8" y="1029"/><use href="#C" x="566" y="1026"/><use href="#C" x="679.2" y="1120"/><use href="#C" x="792.4" y="1174"/><use href="#C" x="905.6" y="1245"/><use href="#C" x="1018.8" y="1306"/></g>
</g>

<!-- ===== Panel h ===== -->
<g class="c">
<path class="lg" stroke="#4A7EBB" d="M2066,3689H2143"/><use href="#th" x="2104" y="3689" fill="#4F81BD"/><text x="2149" y="3709.5">手术</text>
<path class="lg" stroke="#F69240" d="M2309,3689H2386"/><use href="#ch" x="2347" y="3689" fill="#F79646"/><text x="2392" y="3709.5">化疗/介入治疗</text>
<path class="lg" stroke="#46AAC5" d="M2798,3689H2875"/><use href="#sh" x="2836" y="3689" fill="#4BACC6"/><text x="2881" y="3709.5">姑息治疗</text>
<path class="lg" stroke="#BE4B48" d="M2066,3768H2143"/><use href="#ch" x="2104" y="3768" fill="#C0504D"/><text x="2149" y="3788.5">放疗</text>
<path class="lg" stroke="#31507C" d="M2309,3768H2386"/><use href="#ch" x="2347" y="3768" fill="#31507C"/><text x="2392" y="3788.5">同步放化疗</text>
<path class="lg" stroke="#722B2B" d="M2798,3768H2875"/><use href="#ch" x="2836" y="3768" fill="#722B2B"/><text x="2881" y="3788.5">其他治疗</text>
<path class="lg" stroke="#7D60A0" d="M2066,3847H2143"/><use href="#dh" x="2104" y="3847" fill="#8064A2"/><text x="2149" y="3867.5">手术+术后辅助化疗/介入治疗</text>
<path class="lg" stroke="#98B954" d="M2066,3926H2143"/><use href="#sh" x="2104" y="3926" fill="#9BBB59"/><text x="2149" y="3946.5">新辅助化疗/介入治疗+手术</text>
</g>
<g transform="translate(2056.1,4445) scale(1,-0.1596)">
<path class="eb" d="M0,0V5110M-9,2093h18M-9,1860h18M-9,1672h18M-9,1067h18M-9,1021h18M-9,514h18
M113.2,495V2722M104.2,2722h18M104.2,1707h18M104.2,1556h18M104.2,1311h18M104.2,1158h18M104.2,973h18M104.2,896h18M104.2,717h18M104.2,495h18
M226.4,0V1870M217.4,1870h18M217.4,1608h18M217.4,529h18
M339.6,0V2609M330.6,2609h18M330.6,2307h18M330.6,1482h18M330.6,665h18
M452.8,1001V2153M443.8,2153h18M443.8,1493h18M443.8,1437h18M443.8,1001h18
M566,0V2929M557,2929h18M557,1776h18M557,1531h18M557,1342h18M557,1042h18
M679.2,1090V1854M670.2,1854h18M670.2,1745h18M670.2,1665h18M670.2,1090h18
M792.4,403V3364M783.4,3364h18M783.4,1776h18M783.4,1084h18M783.4,403h18
M905.6,155V1834M896.6,1834h18M896.6,1790h18M896.6,1620h18M896.6,155h18
M1018.8,906V2573M1009.8,2573h18M1009.8,2269h18M1009.8,1410h18M1009.8,930h18M1009.8,906h18"/>
<polyline class="lh" stroke="#4A7EBB" points="0,1210 113.2,1253 226.4,1256 339.6,1265 452.8,1168 566,1270 679.2,1441 792.4,1620 905.6,1710 1018.8,1868"/>
<g fill="#4F81BD"><use href="#Th" x="0" y="1210"/><use href="#Th" x="113.2" y="1253"/><use href="#Th" x="226.4" y="1256"/><use href="#Th" x="339.6" y="1265"/><use href="#Th" x="452.8" y="1168"/><use href="#Th" x="566" y="1270"/><use href="#Th" x="679.2" y="1441"/><use href="#Th" x="792.4" y="1620"/><use href="#Th" x="905.6" y="1710"/><use href="#Th" x="1018.8" y="1868"/></g>
<polyline class="lh" stroke="#F69240" points="0,960 113.2,1042 226.4,1063 339.6,1042 452.8,927 566,917 679.2,1378 792.4,1678 905.6,1734 1018.8,1686"/>
<g fill="#F79646"><use href="#Ch" x="0" y="960"/><use href="#Ch" x="113.2" y="1042"/><use href="#Ch" x="226.4" y="1063"/><use href="#Ch" x="339.6" y="1042"/><use href="#Ch" x="452.8" y="927"/><use href="#Ch" x="566" y="917"/><use href="#Ch" x="679.2" y="1378"/><use href="#Ch" x="792.4" y="1678"/><use href="#Ch" x="905.6" y="1734"/><use href="#Ch" x="1018.8" y="1686"/></g>
<polyline class="lh" stroke="#46AAC5" points="0,801 113.2,791 226.4,931 339.6,914 452.8,864 566,896 679.2,917 792.4,973 905.6,1001 1018.8,1011"/>
<g fill="#4BACC6"><use href="#Sh" x="0" y="801"/><use href="#Sh" x="113.2" y="791"/><use href="#Sh" x="226.4" y="931"/><use href="#Sh" x="339.6" y="914"/><use href="#Sh" x="452.8" y="864"/><use href="#Sh" x="566" y="896"/><use href="#Sh" x="679.2" y="917"/><use href="#Sh" x="792.4" y="973"/><use href="#Sh" x="905.6" y="1001"/><use href="#Sh" x="1018.8" y="1011"/></g>
<polyline class="lh" stroke="#BE4B48" points="0,790 113.2,822 226.4,811 339.6,1010 452.8,1258 566,948 679.2,1105 792.4,1437 905.6,1315 1018.8,1834"/>
<g fill="#C0504D"><use href="#Ch" x="0" y="790"/><use href="#Ch" x="113.2" y="822"/><use href="#Ch" x="226.4" y="811"/><use href="#Ch" x="339.6" y="1010"/><use href="#Ch" x="452.8" y="1258"/><use href="#Ch" x="566" y="948"/><use href="#Ch" x="679.2" y="1105"/><use href="#Ch" x="792.4" y="1437"/><use href="#Ch" x="905.6" y="1315"/><use href="#Ch" x="1018.8" y="1834"/></g>
<polyline class="lh" stroke="#31507C" points="0,1376 113.2,1808 226.4,1300 339.6,1665 452.8,1699 566,1279 679.2,1292 792.4,1195 905.6,1195 1018.8,1246"/>
<g fill="#31507C"><use href="#Ch" x="0" y="1376"/><use href="#Ch" x="113.2" y="1808"/><use href="#Ch" x="226.4" y="1300"/><use href="#Ch" x="339.6" y="1665"/><use href="#Ch" x="452.8" y="1699"/><use href="#Ch" x="566" y="1279"/><use href="#Ch" x="679.2" y="1292"/><use href="#Ch" x="792.4" y="1195"/><use href="#Ch" x="905.6" y="1195"/><use href="#Ch" x="1018.8" y="1246"/></g>
<polyline class="lh" stroke="#722B2B" points="0,1497 113.2,1435 226.4,1734 339.6,1598 452.8,1615 566,1657 679.2,1583 792.4,1315 905.6,1315 1018.8,1556"/>
<g fill="#722B2B"><use href="#Ch" x="0" y="1497"/><use href="#Ch" x="113.2" y="1435"/><use href="#Ch" x="226.4" y="1734"/><use href="#Ch" x="339.6" y="1598"/><use href="#Ch" x="452.8" y="1615"/><use href="#Ch" x="566" y="1657"/><use href="#Ch" x="679.2" y="1583"/><use href="#Ch" x="792.4" y="1315"/><use href="#Ch" x="905.6" y="1315"/><use href="#Ch" x="1018.8" y="1556"/></g>
<polyline class="lh" stroke="#7D60A0" points="0,1787 113.2,1225 226.4,1183 339.6,1179 452.8,1200 566,1141 679.2,1504 792.4,1521 905.6,1521 1018.8,2101"/>
<g fill="#8064A2"><use href="#Dh" x="0" y="1787"/><use href="#Dh" x="113.2" y="1225"/><use href="#Dh" x="226.4" y="1183"/><use href="#Dh" x="339.6" y="1179"/><use href="#Dh" x="452.8" y="1200"/><use href="#Dh" x="566" y="1141"/><use href="#Dh" x="679.2" y="1504"/><use href="#Dh" x="792.4" y="1521"/><use href="#Dh" x="905.6" y="1521"/><use href="#Dh" x="1018.8" y="2101"/></g>
<polyline class="lh" stroke="#98B954" points="226.4,885 339.6,1316"/>
<polyline class="lh" stroke="#98B954" points="566,518 679.2,1357 792.4,1891 905.6,791 1018.8,1065"/>
<g fill="#9BBB59"><use href="#Sh" x="0" y="948"/><use href="#Sh" x="226.4" y="885"/><use href="#Sh" x="339.6" y="1316"/><use href="#Sh" x="566" y="518"/><use href="#Sh" x="679.2" y="1357"/><use href="#Sh" x="792.4" y="1891"/><use href="#Sh" x="905.6" y="791"/><use href="#Sh" x="1018.8" y="1065"/></g>
</g>
</svg>
</body></html>
